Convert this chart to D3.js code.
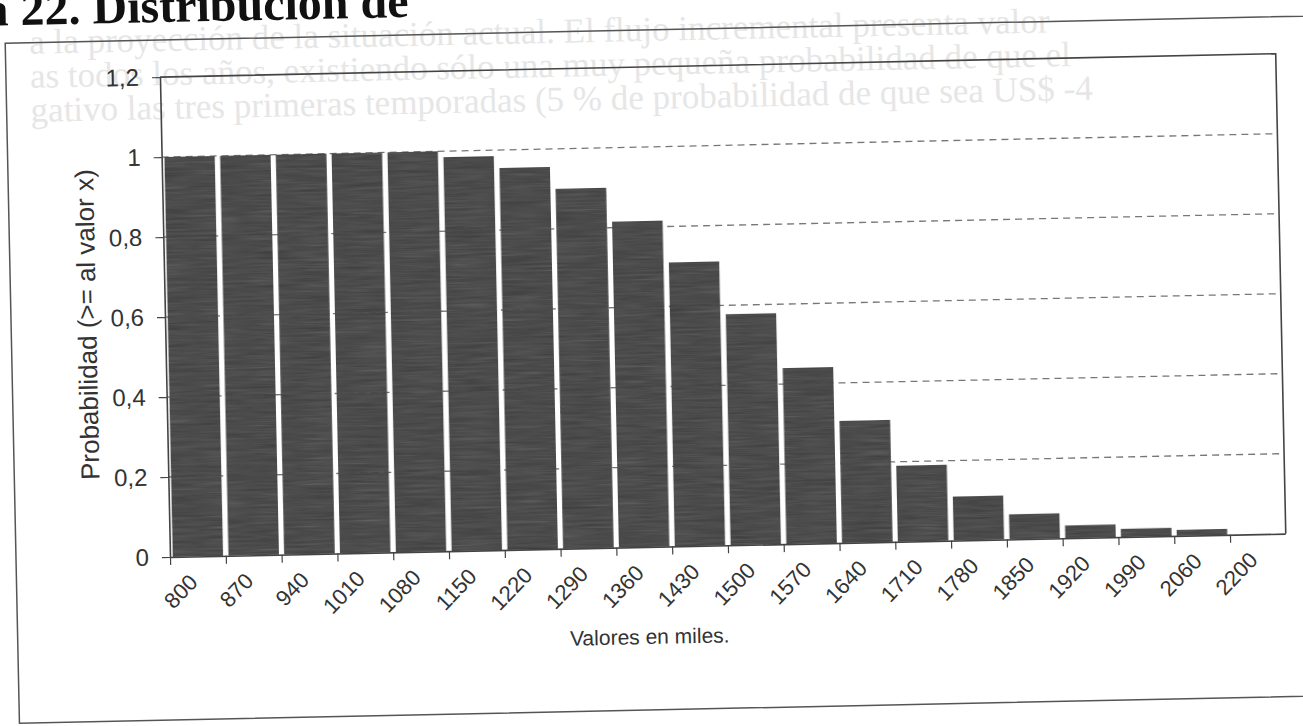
<!DOCTYPE html>
<html>
<head>
<meta charset="utf-8">
<script src="https://cdn.jsdelivr.net/npm/d3@7"></script>
<style>
  html, body { margin: 0; padding: 0; background: #fff; }
  svg { display: block; }
</style>
</head>
<body>
<svg id="chart" width="1303" height="726"></svg>
<script>
// Category labels on the value axis (thousands)
const categories = ["800", "870", "940", "1010", "1080", "1150", "1220", "1290", "1360", "1430",
                    "1500", "1570", "1640", "1710", "1780", "1850", "1920", "1990", "2060", "2200"];
// Probability of reaching a value >= x
const probability = [1.0, 1.0, 1.0, 1.0, 1.0, 0.985, 0.955, 0.90, 0.815, 0.71,
                     0.578, 0.44, 0.305, 0.19, 0.11, 0.063, 0.032, 0.021, 0.015, 0];
const yTickValues = [0, 0.2, 0.4, 0.6, 0.8, 1.0, 1.2];
const gridValues = [0.2, 0.4, 0.6, 0.8, 1.0];

const heading = "a 22. Distribución de";
const yTitle = "Probabilidad (>= al valor x)";
const xTitle = "Valores en miles.";
// faint print showing through the sheet
const bleedLines = [
  "a la proyección de la situación actual. El flujo incremental presenta valor",
  "as todos los años, existiendo sólo una muy pequeña probabilidad de que el",
  "gativo las tres primeras temporadas (5 % de probabilidad de que sea US$ -4"
];

const svg = d3.select("#chart");
const plot = { left: 170, right: 1286, top: 77, bottom: 557 };
const font = "'Liberation Sans', Arial, sans-serif";
const ink = "#333";

// grainy print texture for the bar fill
const defs = svg.append("defs");
const grain = defs.append("filter").attr("id", "grain")
  .attr("x", 0).attr("y", 0).attr("width", 1).attr("height", 1)
  .attr("color-interpolation-filters", "sRGB");
grain.append("feTurbulence").attr("type", "fractalNoise")
  .attr("baseFrequency", "0.02 0.45").attr("numOctaves", 2).attr("seed", 7).attr("result", "noise");
grain.append("feColorMatrix").attr("in", "noise").attr("type", "saturate").attr("values", 0).attr("result", "gray");
grain.append("feComposite").attr("in", "SourceGraphic").attr("in2", "gray")
  .attr("operator", "arithmetic").attr("k1", 0).attr("k2", 1).attr("k3", 0.28).attr("k4", -0.14).attr("result", "mix");
grain.append("feComposite").attr("in", "mix").attr("in2", "SourceAlpha").attr("operator", "in");

// the printed page sits slightly tilted
const page = svg.append("g").attr("transform", "rotate(-1.2, 170, 557)");

// show-through lines, shrunk so each stays on the sheet
page.append("g").selectAll("text").data(bleedLines).join("text")
  .attr("x", 40).attr("y", (d, i) => 51 + i * 34)
  .attr("font-family", "'Liberation Serif', 'Times New Roman', serif")
  .attr("font-size", 35)
  .attr("fill", "#e6e6e6")
  .text(d => d)
  .each(function () {
    const w = this.getComputedTextLength();
    const maxW = 1200;
    if (w > maxW) d3.select(this).attr("font-size", 35 * maxW / w);
  });

page.append("text")
  .attr("x", -4).attr("y", 22)
  .attr("font-family", "'Liberation Serif', 'Times New Roman', serif")
  .attr("font-weight", "bold")
  .attr("font-size", 48)
  .attr("fill", "#111")
  .text(heading);

// chart frame
page.append("rect")
  .attr("x", 16).attr("y", 40).attr("width", 1420).attr("height", 680)
  .attr("fill", "none").attr("stroke", "#555").attr("stroke-width", 1.5);

const x = d3.scaleBand().domain(categories)
  .range([plot.left, plot.right]).paddingInner(0.09).paddingOuter(0.045);
const xTick = d3.scalePoint().domain(categories)
  .range([plot.left, plot.left + x.step() * (categories.length - 1)]);
const y = d3.scaleLinear().domain([0, 1.2]).range([plot.bottom, plot.top]);

// dashed gridlines
page.append("g").selectAll("line").data(gridValues).join("line")
  .attr("x1", plot.left).attr("x2", plot.right)
  .attr("y1", d => y(d)).attr("y2", d => y(d))
  .attr("stroke", "#777").attr("stroke-width", 1.3).attr("stroke-dasharray", "7,5");

// plot area top and right edges
page.append("path")
  .attr("d", `M${plot.left},${y(1.2)}H${plot.right}V${plot.bottom}`)
  .attr("fill", "none").attr("stroke", "#444").attr("stroke-width", 1.6);

// bars
page.append("g").selectAll("rect").data(categories).join("rect")
  .attr("x", d => x(d))
  .attr("width", x.bandwidth())
  .attr("y", (d, i) => y(probability[i]))
  .attr("height", (d, i) => y(0) - y(probability[i]))
  .attr("fill", "#5a5a5a")
  .attr("filter", "url(#grain)");

// axes
const comma = d3.formatLocale({ decimal: ",", thousands: ".", grouping: [3], currency: ["$", ""] }).format("~g");
const yAxis = page.append("g").attr("transform", `translate(${plot.left},0)`)
  .call(d3.axisLeft(y).tickValues(yTickValues).tickSize(8).tickSizeOuter(0).tickPadding(13).tickFormat(comma));
yAxis.select(".domain").attr("stroke", "#444").attr("stroke-width", 1.6);
yAxis.selectAll(".tick line").attr("stroke", "#444").attr("stroke-width", 1.2);
yAxis.selectAll(".tick text").attr("font-family", font).attr("font-size", 24).attr("fill", ink);

// tick marks sit on category boundaries, labels under category centres
const xAxis = page.append("g").attr("transform", `translate(0,${plot.bottom})`)
  .call(d3.axisBottom(xTick).tickSize(8).tickSizeOuter(0));
xAxis.select(".domain").attr("stroke", "#444").attr("stroke-width", 1.6)
  .attr("d", `M${plot.left},0.5H${plot.right}`);
xAxis.selectAll(".tick line").attr("stroke", "#444").attr("stroke-width", 1.2);
xAxis.selectAll(".tick text")
  .attr("font-family", font).attr("font-size", 22).attr("fill", ink)
  .attr("text-anchor", "end")
  .attr("dy", null).attr("y", null)
  .attr("transform", `translate(${x.step() / 2},27) rotate(-45)`);

// axis titles
page.append("text")
  .attr("transform", "translate(92,323) rotate(-90)")
  .attr("text-anchor", "middle").attr("dy", "0.35em")
  .attr("font-family", font).attr("font-size", 26).attr("fill", ink)
  .text(yTitle);

page.append("text")
  .attr("x", 648).attr("y", 654)
  .attr("text-anchor", "middle")
  .attr("font-family", font).attr("font-size", 21).attr("fill", ink)
  .text(xTitle);
</script>
</body>
</html>
